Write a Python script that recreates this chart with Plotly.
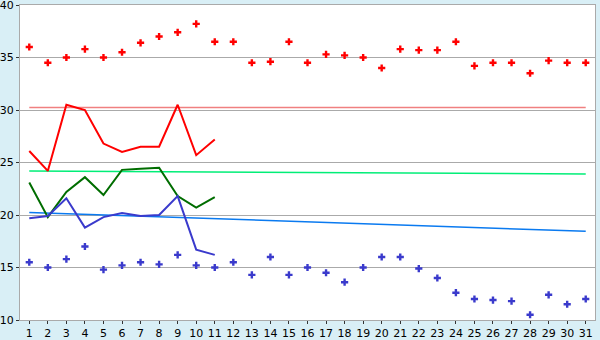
import plotly.graph_objects as go

days = list(range(1, 32))
tick_labels = [str(d) for d in days]

max_pts = [36.0, 34.5, 35.0, 35.8, 35.0, 35.5, 36.4, 37.0, 37.4, 38.2,
           36.5, 36.5, 34.5, 34.6, 36.5, 34.5, 35.3, 35.2, 35.0, 34.0,
           35.8, 35.7, 35.7, 36.5, 34.2, 34.5, 34.5, 33.5, 34.7, 34.5, 34.5]
min_pts = [15.5, 15.0, 15.8, 17.0, 14.8, 15.2, 15.5, 15.3, 16.2, 15.2,
           15.0, 15.5, 14.3, 16.0, 14.3, 15.0, 14.5, 13.6, 15.0, 16.0,
           16.0, 14.9, 14.0, 12.6, 12.0, 11.9, 11.8, 10.5, 12.4, 11.5, 12.0]

line_days = list(range(1, 12))
red_line = [26.1, 24.2, 30.5, 30.0, 26.8, 26.0, 26.5, 26.5, 30.5, 25.7, 27.2]
green_line = [23.1, 19.8, 22.2, 23.6, 21.9, 24.3, 24.4, 24.5, 21.8, 20.7, 21.7]
blue_line = [19.7, 19.9, 21.6, 18.8, 19.8, 20.2, 19.9, 20.0, 21.8, 16.7, 16.2]

trend_days = [1, 31]
red_trend = [30.25, 30.25]
green_trend = [24.2, 23.9]
blue_trend = [20.25, 18.45]

y_ticks = [10, 15, 20, 25, 30, 35, 40]

fig = go.Figure()

fig.add_trace(go.Scatter(x=trend_days, y=red_trend, mode="lines",
                         line=dict(color="#f08080", width=1.5)))
fig.add_trace(go.Scatter(x=trend_days, y=green_trend, mode="lines",
                         line=dict(color="#00ee77", width=1.5)))
fig.add_trace(go.Scatter(x=trend_days, y=blue_trend, mode="lines",
                         line=dict(color="#0a7af0", width=1.5)))

fig.add_trace(go.Scatter(x=line_days, y=red_line, mode="lines",
                         line=dict(color="#ff0000", width=2)))
fig.add_trace(go.Scatter(x=line_days, y=green_line, mode="lines",
                         line=dict(color="#006d00", width=2)))
fig.add_trace(go.Scatter(x=line_days, y=blue_line, mode="lines",
                         line=dict(color="#3a3acc", width=2)))

fig.add_trace(go.Scatter(x=days, y=max_pts, mode="markers",
                         marker=dict(symbol="cross", size=6, color="#ff0000",
                                     line=dict(width=0))))
fig.add_trace(go.Scatter(x=days, y=min_pts, mode="markers",
                         marker=dict(symbol="cross", size=6, color="#3a3acc",
                                     line=dict(width=0))))

fig.update_layout(
    width=600, height=340,
    margin=dict(l=20, r=5, t=5, b=20),
    paper_bgcolor="#d9eff6",
    plot_bgcolor="#ffffff",
    showlegend=False,
    font=dict(family="DejaVu Sans", size=11, color="#000000"),
)
fig.update_xaxes(
    range=[0.5, 31.5], tickmode="array", tickvals=days, ticktext=tick_labels,
    showgrid=False, zeroline=False, showline=True, linecolor="#aaaaaa",
    linewidth=1, mirror=True, ticks="outside", ticklen=3, tickcolor="#333333",
    tickfont=dict(size=11), automargin=False,
)
fig.update_yaxes(
    range=[10, 40.0001], tickmode="array", tickvals=y_ticks,
    ticktext=[str(t) for t in y_ticks],
    showgrid=True, gridcolor="#aaaaaa", gridwidth=1, zeroline=False,
    showline=True, linecolor="#aaaaaa", linewidth=1, mirror=True,
    ticks="outside", ticklen=3, tickcolor="#333333", tickfont=dict(size=11),
    ticklabeloverflow="allow", automargin=False,
)

fig.write_html("out.html")
